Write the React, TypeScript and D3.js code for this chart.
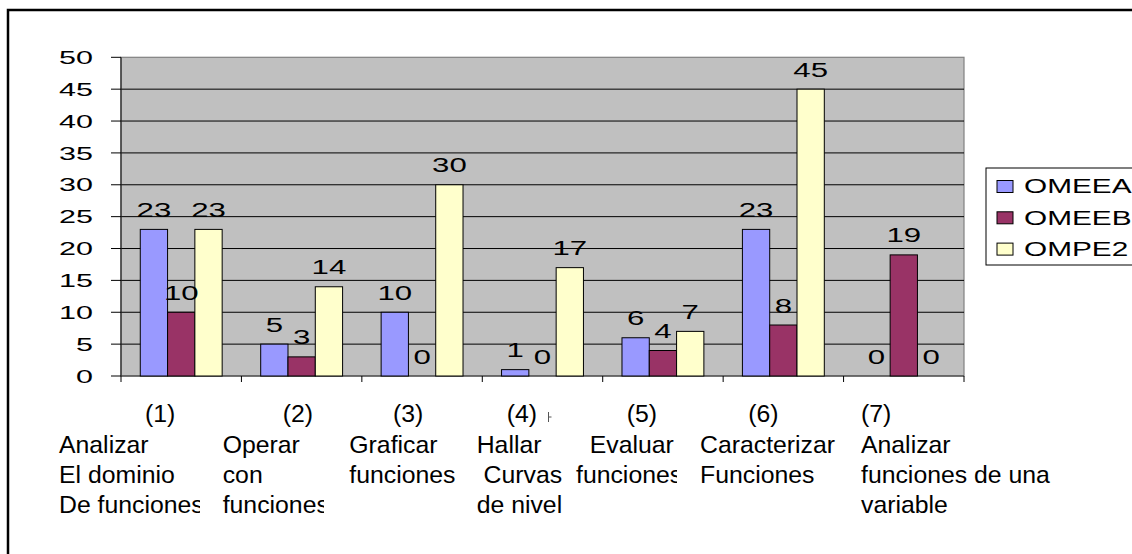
import * as d3 from 'd3'

// Chart data
const categories = ['1', '2', '3', '4', '5', '6', '7']
const seriesNames = ['OMEEA', 'OMEEB', 'OMPE2']
const omeeaValues = [23, 5, 10, 1, 6, 23, 0]
const omeebValues = [10, 3, 0, 0, 4, 8, 19]
const ompe2Values = [23, 14, 30, 17, 7, 45, 0]
const yTicks = [0, 5, 10, 15, 20, 25, 30, 35, 40, 45, 50]
const categoryCodes = ['(1)', '(2)', '(3)', '(4)', '(5)', '(6)', '(7)']
const categoryLines = [
  ['Analizar', 'El dominio', 'De funciones'],
  ['Operar', 'con', 'funciones'],
  ['Graficar', 'funciones'],
  ['Hallar', '\u00a0Curvas', 'de nivel'],
  ['\u00a0\u00a0Evaluar', 'funciones'],
  ['Caracterizar', 'Funciones'],
  ['Analizar', 'funciones de una', 'variable'],
]

const seriesColors = ['#9999FF', '#993366', '#FFFFCC']

// label layout (text boxes as placed in the original sheet)
const codeX = [145, 282.7, 393, 506.7, 626.7, 748.3, 861]
const lineX = [59, 222.7, 349.3, 476.7, 576, 700, 861]
const clipRight = [200, 324, null, null, 677, null, null]

const FONT = '"Liberation Sans", Arial, Helvetica, sans-serif'

function StretchText({ x, y, sx, size, anchor = 'start', children }: any) {
  return (
    <text
      transform={`translate(${x},${y}) scale(${sx},1)`}
      textAnchor={anchor}
      fontSize={size}
      fontFamily={FONT}
      fill="#000"
    >
      {children}
    </text>
  )
}

export default function App() {
  const width = 1132
  const height = 554
  const plot = { left: 121, right: 964, top: 57.3, bottom: 376 }

  const series = [omeeaValues, omeebValues, ompe2Values]

  const x = d3.scaleBand().domain(categories).range([plot.left, plot.right]).padding(0)
  const bw = x.bandwidth()
  const groupW = bw * 0.68
  const inner = d3
    .scaleBand()
    .domain(seriesNames)
    .range([(bw - groupW) / 2, (bw + groupW) / 2])
    .padding(0)
  const y = d3.scaleLinear().domain([0, 50]).range([plot.bottom, plot.top])

  const boundaries = d3.range(categories.length + 1).map((i) => plot.left + i * bw)

  return (
    <svg
      width={width}
      height={height}
      style={{ position: 'absolute', left: 0, top: 0, background: '#fff' }}
    >
      <defs>
        {clipRight.map((r, i) =>
          r == null ? null : (
            <clipPath id={`clip-cat-${i}`} key={i}>
              <rect x={0} y={380} width={r} height={160} />
            </clipPath>
          )
        )}
      </defs>

      {/* outer chart frame */}
      <rect x={8} y={10} width={1200} height={600} fill="none" stroke="#000" strokeWidth={2.5} />

      {/* plot area */}
      <rect
        x={plot.left}
        y={plot.top}
        width={plot.right - plot.left}
        height={plot.bottom - plot.top}
        fill="#C0C0C0"
        stroke="#808080"
        strokeWidth={1.2}
      />

      {/* gridlines */}
      {yTicks
        .filter((t) => t > 0 && t < 50)
        .map((t) => (
          <line key={t} x1={plot.left} x2={plot.right} y1={y(t)} y2={y(t)} stroke="#000" strokeWidth={1} />
        ))}

      {/* y axis */}
      <line x1={plot.left} x2={plot.left} y1={plot.top} y2={plot.bottom} stroke="#222" strokeWidth={1.2} />
      {yTicks.map((t) => (
        <g key={t}>
          <line x1={plot.left - 10} x2={plot.left} y1={y(t)} y2={y(t)} stroke="#000" strokeWidth={1} />
          <StretchText x={93} y={y(t) + 6.7} sx={1.65} size={18.5} anchor="end">
            {t}
          </StretchText>
        </g>
      ))}

      {/* x axis */}
      <line x1={plot.left} x2={plot.right} y1={plot.bottom} y2={plot.bottom} stroke="#333" strokeWidth={1.2} />
      {boundaries.map((bx, i) => (
        <line key={i} x1={bx} x2={bx} y1={plot.bottom} y2={plot.bottom + 6} stroke="#000" strokeWidth={1} />
      ))}

      {/* bars */}
      {categories.map((c, ci) =>
        seriesNames.map((s, si) => {
          const v = series[si][ci]
          const bx = (x(c) as number) + (inner(s) as number)
          return v > 0 ? (
            <rect
              key={`${c}-${s}`}
              x={bx}
              y={y(v)}
              width={inner.bandwidth()}
              height={plot.bottom - y(v)}
              fill={seriesColors[si]}
              stroke="#000"
              strokeWidth={1}
            />
          ) : null
        })
      )}

      {/* value labels */}
      {categories.map((c, ci) =>
        seriesNames.map((s, si) => {
          const v = series[si][ci]
          const cx = (x(c) as number) + (inner(s) as number) + inner.bandwidth() / 2
          return (
            <StretchText key={`l-${c}-${s}`} x={cx} y={y(v) - 12.5} sx={1.6} size={19.5} anchor="middle">
              {v}
            </StretchText>
          )
        })
      )}

      {/* category labels */}
      {categories.map((c, ci) => (
        <g key={`cat-${c}`} clipPath={clipRight[ci] != null ? `url(#clip-cat-${ci})` : undefined}>
          <text x={codeX[ci]} y={422} fontSize={24.8} fontFamily={FONT} fill="#000">
            {categoryCodes[ci]}
          </text>
          {categoryLines[ci].map((line, li) => (
            <text key={li} x={lineX[ci]} y={452.6 + li * 30.4} fontSize={24.8} fontFamily={FONT} fill="#000">
              {line}
            </text>
          ))}
        </g>
      ))}
      {/* small stray mark beside (4) */}
      <path d="M548.5,412 V422 M548.5,417 H551.5" stroke="#555" strokeWidth={1} fill="none" />

      {/* legend */}
      <rect x={986} y={168} width={200} height={97} fill="#fff" stroke="#000" strokeWidth={1} />
      {seriesNames.map((s, i) => {
        const cy = 186.5 + i * 31.3
        return (
          <g key={s}>
            <rect x={997} y={cy - 6} width={16} height={12} fill={seriesColors[i]} stroke="#000" strokeWidth={1} />
            <StretchText x={1024} y={cy + 6.8} sx={1.42} size={21}>
              {s}
            </StretchText>
          </g>
        )
      })}
    </svg>
  )
}
